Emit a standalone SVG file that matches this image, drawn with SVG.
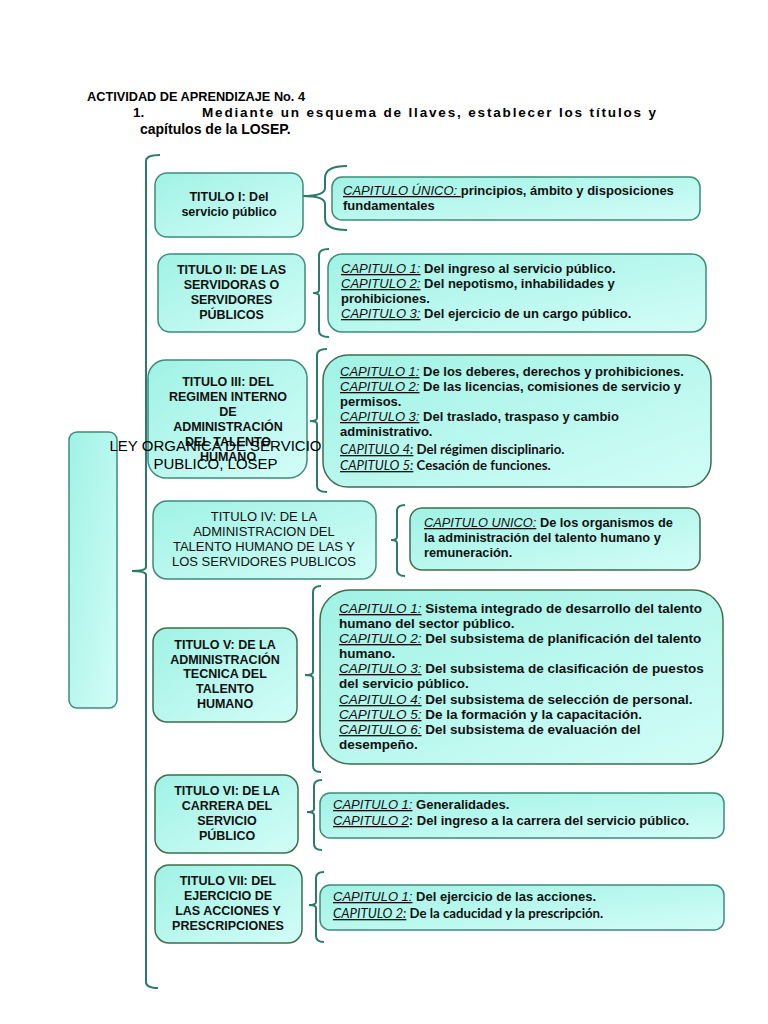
<svg xmlns="http://www.w3.org/2000/svg" width="768" height="1024" viewBox="0 0 768 1024">
<defs>
<linearGradient id="g" x1="0" y1="0" x2="1" y2="1">
<stop offset="0" stop-color="#a0f2e5"/>
<stop offset="1" stop-color="#d2fdf7"/>
</linearGradient>
<style>
.box{fill:url(#g);stroke:#3d8c7a;stroke-width:1.5}
.box2{fill:url(#g);stroke:#3e6e4c;stroke-width:1.5}
.brace{fill:none;stroke:#2b7a6c;stroke-width:2}
.t{font-family:"Liberation Sans",Arial,sans-serif;font-size:12.5px;font-weight:bold;fill:#111}
.s13{font-size:13px}
.s135{font-size:13.5px}
.s128{font-size:12.8px}
.n{font-weight:normal;font-size:13px}
.m{text-anchor:middle}
.c{font-style:italic;font-weight:normal;text-decoration:underline}
.cal{font-family:Lato,"Liberation Sans",sans-serif;font-size:13.2px}
.h{font-family:"Liberation Sans",Arial,sans-serif;font-size:13.5px;font-weight:bold;fill:#000}
</style>
</defs>
<rect width="768" height="1024" fill="#fff"/>
<g id="header">
<text class="h" x="87" y="101" textLength="218" lengthAdjust="spacingAndGlyphs">ACTIVIDAD DE APRENDIZAJE No. 4</text>
<text class="h" x="133" y="117">1.</text>
<text class="h" x="202" y="117" textLength="454" lengthAdjust="spacing">Mediante un esquema de llaves, establecer los títulos y</text>
<text class="h" x="140" y="134" style="font-size:14px">capítulos de la LOSEP.</text>
</g>
<g id="connectors">
<path class="brace" d="M160 155 Q146 155 146 161 V567 Q146 571 132 571 Q146 571 146 575 V982 Q146 988 158 988"/>
<path class="brace" d="M347 166 Q325 166 325 178 V188 Q325 196 303 196 Q325 196 325 204 V218 Q325 230 347 230"/>
<path class="brace" d="M329 249 Q319 249 319 255 V290 Q319 293 313 293 Q319 293 319 296 V331 Q319 337 329 337"/>
<path class="brace" d="M327 349 Q317 349 317 355 V418 Q317 421 310 421 Q317 421 317 424 V486 Q317 492 327 492"/>
<path class="brace" d="M405 505 Q397 505 397 511 V537 Q397 540 391 540 Q397 540 397 543 V570 Q397 576 405 576"/>
<path class="brace" d="M321 586 Q313 586 313 592 V672 Q313 675 305 675 Q313 675 313 678 V766 Q313 772 321 772"/>
<path class="brace" d="M322 780 Q314 780 314 786 V809 Q314 812 307 812 Q314 812 314 815 V844 Q314 850 322 850"/>
<path class="brace" d="M324 872 Q316 872 316 878 V902 Q316 905 309 905 Q316 905 316 908 V936 Q316 942 324 942"/>
</g>
<g id="ley">
<rect class="box" x="69" y="432" width="48" height="276" rx="8"/>
</g>
<g id="t3">
<rect class="box" x="148" y="360" width="159" height="118" rx="18"/>
<text class="t m" x="228" y="386">TITULO III: DEL</text>
<text class="t m" x="228" y="401">REGIMEN INTERNO</text>
<text class="t m" x="228" y="416">DE</text>
<text class="t m" x="228" y="431">ADMINISTRACIÓN</text>
<text class="t m" x="228" y="446">DEL TALENTO</text>
<text class="t m" x="228" y="461">HUMANO</text>
</g>
<g id="ley-label">
<text x="215.5" y="451" text-anchor="middle" font-family="Liberation Sans, Arial, sans-serif" font-size="15" fill="#000">LEY ORGANICA DE SERVICIO</text>
<text x="215.5" y="469" text-anchor="middle" font-family="Liberation Sans, Arial, sans-serif" font-size="15" fill="#000">PUBLICO, LOSEP</text>
</g>
<g id="t1">
<rect class="box" x="155" y="173" width="148" height="64" rx="12"/>
<text class="t m" x="229" y="201">TITULO I: Del</text>
<text class="t m" x="229" y="216">servicio público</text>
</g>
<g id="t2">
<rect class="box" x="158" y="254" width="147" height="78" rx="12"/>
<text class="t m" x="231.5" y="274">TITULO II: DE LAS</text>
<text class="t m" x="231.5" y="289">SERVIDORAS O</text>
<text class="t m" x="231.5" y="304">SERVIDORES</text>
<text class="t m" x="231.5" y="319">PÚBLICOS</text>
</g>
<g id="t4">
<rect class="box" x="153" y="501" width="223" height="78" rx="14"/>
<text class="t n m" x="264" y="521">TITULO IV: DE LA</text>
<text class="t n m" x="264" y="536">ADMINISTRACION DEL</text>
<text class="t n m" x="264" y="551">TALENTO HUMANO DE LAS Y</text>
<text class="t n m" x="264" y="566">LOS SERVIDORES PUBLICOS</text>
</g>
<g id="t5">
<rect class="box2" x="153" y="628" width="144" height="94" rx="14"/>
<text class="t m" x="225" y="649">TITULO V: DE LA</text>
<text class="t m" x="225" y="664">ADMINISTRACIÓN</text>
<text class="t m" x="225" y="678">TECNICA DEL</text>
<text class="t m" x="225" y="693">TALENTO</text>
<text class="t m" x="225" y="708">HUMANO</text>
</g>
<g id="t6">
<rect class="box2" x="155" y="775" width="143" height="78" rx="14"/>
<text class="t m" x="227" y="795">TITULO VI: DE LA</text>
<text class="t m" x="227" y="810">CARRERA DEL</text>
<text class="t m" x="227" y="825">SERVICIO</text>
<text class="t m" x="227" y="840">PÚBLICO</text>
</g>
<g id="t7">
<rect class="box2" x="155" y="865" width="147" height="78" rx="14"/>
<text class="t m" x="228" y="885">TITULO VII: DEL</text>
<text class="t m" x="228" y="900">EJERCICIO DE</text>
<text class="t m" x="228" y="915">LAS ACCIONES Y</text>
<text class="t m" x="228" y="930">PRESCRIPCIONES</text>
</g>
<g id="c1">
<rect class="box" x="332" y="177" width="368" height="43" rx="10"/>
<text class="t s13" x="343" y="195"><tspan class="c">CAPITULO ÚNICO: </tspan> principios, ámbito y disposiciones</text>
<text class="t s13" x="343" y="210">fundamentales</text>
</g>
<g id="c2">
<rect class="box" x="328" y="254" width="378" height="78" rx="14"/>
<text class="t s13" x="341" y="273"><tspan class="c">CAPITULO 1:</tspan> Del ingreso al servicio público.</text>
<text class="t s13" x="341" y="288"><tspan class="c">CAPITULO 2:</tspan> Del nepotismo, inhabilidades y</text>
<text class="t s13" x="341" y="303">prohibiciones.</text>
<text class="t s13" x="341" y="318"><tspan class="c">CAPITULO 3:</tspan> Del ejercicio de un cargo público.</text>
</g>
<g id="c3">
<rect class="box2" x="323" y="355" width="388" height="132" rx="25"/>
<text class="t s13" x="340" y="376"><tspan class="c">CAPITULO 1:</tspan> De los deberes, derechos y prohibiciones.</text>
<text class="t s13" x="340" y="391"><tspan class="c">CAPITULO 2:</tspan> De las licencias, comisiones de servicio y</text>
<text class="t s13" x="340" y="406">permisos.</text>
<text class="t s13" x="340" y="421"><tspan class="c">CAPITULO 3:</tspan> Del traslado, traspaso y cambio</text>
<text class="t s13" x="340" y="436">administrativo.</text>
<text class="t cal" x="340" y="454"><tspan class="c">CAPITULO 4:</tspan>  Del régimen disciplinario.</text>
<text class="t cal" x="340" y="470"><tspan class="c">CAPITULO 5:</tspan> Cesación de funciones.</text>
</g>
<g id="c4">
<rect class="box2" x="410" y="508" width="290" height="62" rx="12"/>
<text class="t s128" x="424" y="527"><tspan class="c">CAPITULO UNICO:</tspan>  De los organismos de</text>
<text class="t s128" x="424" y="542">la administración del talento humano y</text>
<text class="t s128" x="424" y="557">remuneración.</text>
</g>
<g id="c5">
<rect class="box2" x="320" y="590" width="403" height="174" rx="30"/>
<text class="t s135" x="339" y="613"><tspan class="c">CAPITULO 1:</tspan> Sistema integrado de desarrollo del talento</text>
<text class="t s135" x="339" y="628">humano del sector público.</text>
<text class="t s135" x="339" y="643"><tspan class="c">CAPITULO 2:</tspan> Del subsistema de planificación del talento</text>
<text class="t s135" x="339" y="658">humano.</text>
<text class="t s135" x="339" y="673"><tspan class="c">CAPITULO 3:</tspan> Del subsistema de clasificación de puestos</text>
<text class="t s135" x="339" y="688">del servicio público.</text>
<text class="t s135" x="339" y="704"><tspan class="c">CAPITULO 4:</tspan> Del subsistema de selección de personal.</text>
<text class="t s135" x="339" y="719"><tspan class="c">CAPITULO 5:</tspan> De la formación y la capacitación.</text>
<text class="t s135" x="339" y="734"><tspan class="c">CAPITULO 6:</tspan> Del subsistema de evaluación del</text>
<text class="t s135" x="339" y="749">desempeño.</text>
</g>
<g id="c6">
<rect class="box" x="320" y="793" width="404" height="45" rx="10"/>
<text class="t s13" x="333" y="809"><tspan class="c">CAPITULO 1:</tspan> Generalidades.</text>
<text class="t s13" x="333" y="825"><tspan class="c">CAPITULO 2</tspan>: Del ingreso a la carrera del servicio público.</text>
</g>
<g id="c7">
<rect class="box" x="320" y="885" width="404" height="45" rx="10"/>
<text class="t s13" x="333" y="901"><tspan class="c">CAPITULO 1:</tspan> Del ejercicio de las acciones.</text>
<text class="t cal" x="333" y="918"><tspan class="c">CAPITULO 2:</tspan> De la caducidad y la prescripción.</text>
</g>
</svg>
